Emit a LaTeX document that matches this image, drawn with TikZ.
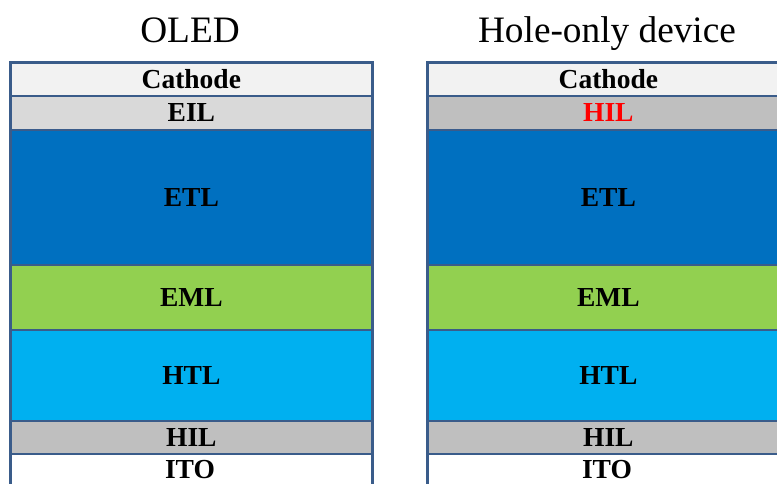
\documentclass[tikz,border=0pt]{standalone}
\usepackage{fontspec}
\setmainfont{Liberation Serif}
\definecolor{edge}{RGB}{58,92,138}
\definecolor{cathodefill}{RGB}{242,242,242}
\definecolor{eilfill}{RGB}{217,217,217}
\definecolor{hilfill}{RGB}{191,191,191}
\definecolor{etlfill}{RGB}{0,112,192}
\definecolor{emlfill}{RGB}{146,208,80}
\definecolor{htlfill}{RGB}{0,176,240}
\definecolor{redtext}{RGB}{255,0,0}
\tikzset{
  layerfont/.style={font=\fontsize{27.5}{30}\selectfont\bfseries},
  layer/.style={draw=edge, line width=2.7pt, rectangle, anchor=north west,
    inner sep=0pt, minimum width=362pt, layerfont},
  heading/.style={font=\fontsize{37.3}{42}\selectfont, inner sep=0pt, anchor=base}
}
\begin{document}
\begin{tikzpicture}[x=1pt,y=-1pt]
\path[use as bounding box, clip] (0,0) rectangle (777,483);

% OLED stack
\node[layer, fill=white, minimum height=42.5pt] (ito1) at (9,452.5) {};
\node[layer, fill=hilfill, minimum height=33pt] (hil1) at (9,419.5) {HIL};
\node[layer, fill=htlfill, minimum height=91pt] (htl1) at (9,328.5) {HTL};
\node[layer, fill=emlfill, minimum height=65pt] (eml1) at (9,263.5) {EML};
\node[layer, fill=etlfill, minimum height=135pt] (etl1) at (9,128.5) {ETL};
\node[layer, fill=eilfill, minimum height=34pt] (eil1) at (9,94.5) {EIL};
\node[layer, fill=cathodefill, minimum height=33.5pt] (cat1) at (9,61) {Cathode};
\node[layerfont, inner sep=0pt] (itotext1) at (190,469.5) {ITO};

% Hole-only stack
\node[layer, fill=white, minimum height=42.5pt] (ito2) at (426,452.5) {};
\node[layer, fill=hilfill, minimum height=33pt] (hil2) at (426,419.5) {HIL};
\node[layer, fill=htlfill, minimum height=91pt] (htl2) at (426,328.5) {HTL};
\node[layer, fill=emlfill, minimum height=65pt] (eml2) at (426,263.5) {EML};
\node[layer, fill=etlfill, minimum height=135pt] (etl2) at (426,128.5) {ETL};
\node[layer, fill=hilfill, minimum height=34pt, text=redtext] (topil2) at (426,94.5) {HIL};
\node[layer, fill=cathodefill, minimum height=33.5pt] (cat2) at (426,61) {Cathode};
\node[layerfont, inner sep=0pt] (itotext2) at (607,469.5) {ITO};

% Titles
\node[heading] (title1) at (190,42.5) {OLED};
\node[heading] (title2) at (607,42.5) {Hole-only device};
\end{tikzpicture}
\end{document}
